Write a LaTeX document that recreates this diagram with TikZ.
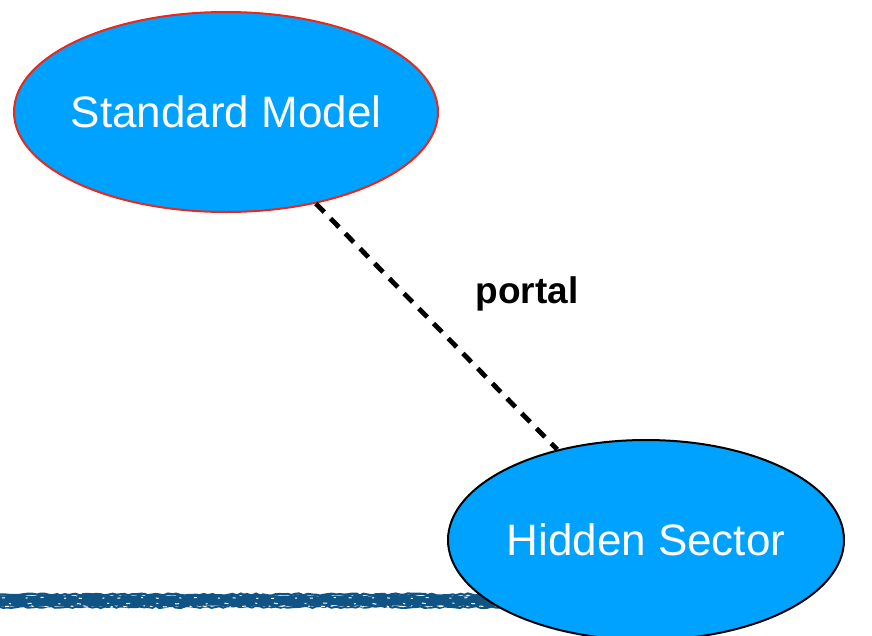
\documentclass[tikz,border=0pt]{standalone}
\usepackage{fontspec}
\setmainfont{Liberation Sans}
\usetikzlibrary{shapes.geometric,decorations.pathmorphing}
\definecolor{bubble}{RGB}{0,162,255}
\definecolor{rim}{RGB}{232,40,28}
\definecolor{brush}{RGB}{16,84,134}
\begin{document}
\begin{tikzpicture}[x=1pt,y=-1pt,
  sector/.style={ellipse, fill=bubble, inner sep=0pt, line width=2pt},
  sectortext/.style={text=white, font=\fontsize{44}{52}\selectfont},
  portalline/.style={line width=4.8pt, dash pattern=on 12pt off 9pt},
  stroke/.style={brush, decorate, decoration={random steps, segment length=4pt, amplitude=1.1pt}},
  fleck/.style={white, line width=1pt, decorate, decoration={random steps, segment length=3pt, amplitude=0.6pt}}]
\useasboundingbox (0,0) rectangle (872,635);
\pgfmathsetseed{11}
% brush-stroke band along the bottom
\draw[brush, line width=8pt] (0,600.5) -- (500,600.5);
\foreach \yy/\ww in {594.5/2.2, 596.5/2.5, 599/3, 602/3, 605/2.5, 607/2}
  \draw[stroke, line width=\ww pt] (0,\yy) -- (505,\yy);
% dry-brush flecks
\draw[fleck, dash pattern=on 3pt off 21pt on 2pt off 13pt] (2,598) -- (500,598);
\draw[fleck, dash pattern=on 2pt off 17pt on 4pt off 27pt] (9,603.5) -- (500,603.5);
\draw[fleck, dash pattern=on 4pt off 23pt on 2pt off 11pt] (5,606.5) -- (500,606.5);
% the two sectors
\node[sector, draw=rim, minimum width=424pt, minimum height=200pt,
      label={[sectortext]center:Standard Model}] (sm) at (226,112) {};
\node[sector, draw=black, minimum width=396pt, minimum height=200pt,
      label={[sectortext]center:Hidden Sector}] (hs) at (646,540) {};
% portal connecting them
\draw[portalline] (sm) -- (hs);
\node[font=\bfseries\fontsize{37}{44}\selectfont] (portal) at (527,294) {portal};
\end{tikzpicture}
\end{document}
